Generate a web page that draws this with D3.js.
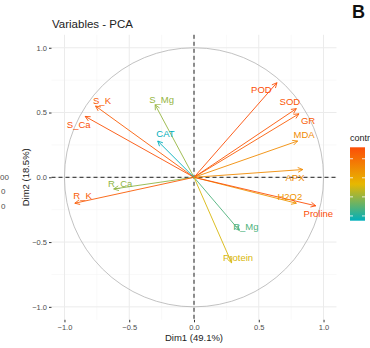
<!DOCTYPE html>
<head>
  <meta charset="utf-8">
  <script src="https://d3js.org/d3.v7.min.js"></script>
  <style>
    body { margin: 0; background: #fff; }
    svg { font-family: "Liberation Sans", Arial, sans-serif; }
    .tick text { fill: #4d4d4d; font-size: 7.5px; }
    .tick line { stroke: #333; }
    .var-label { font-size: 9.5px; }
  </style>
</head>
<body>
<script>
// PCA variables (correlation circle)
var vars    = ["S_K", "S_Ca", "S_Mg", "CAT", "R_Ca", "R_K", "POD", "SOD", "GR", "MDA", "APX", "H2O2", "Proline", "R_Mg", "Protein"];
var dim1    = [-0.76, -0.84, -0.30, -0.28, -0.62, -0.92, 0.64, 0.79, 0.81, 0.80, 0.84, 0.79, 0.94, 0.35, 0.29];
var dim2    = [0.55, 0.47, 0.56, 0.28, -0.09, -0.20, 0.73, 0.53, 0.49, 0.28, 0.06, -0.20, -0.22, -0.41, -0.66];
var contrib = [8.7, 9.1, 4.0, 1.5, 3.9, 8.7, 9.2, 8.9, 8.7, 7.0, 7.0, 6.6, 9.2, 2.8, 5.1];
// where the text labels sit (data units)
var labelX  = [-0.71, -0.89, -0.25, -0.22, -0.57, -0.86, 0.52, 0.74, 0.88, 0.85, 0.78, 0.74, 0.96, 0.40, 0.34];
var labelY  = [0.59, 0.41, 0.60, 0.34, -0.05, -0.14, 0.68, 0.58, 0.44, 0.33, 0.0, -0.15, -0.28, -0.38, -0.62];

var axisTicks = [-1.0, -0.5, 0.0, 0.5, 1.0];
var minorTicks = [-0.75, -0.25, 0.25, 0.75];
var legendTicks = [2, 4, 6, 8];

var width = 370, height = 348;
var svg = d3.select("body").append("svg")
  .attr("width", width)
  .attr("height", height);

var x = d3.scaleLinear().domain([-1.1, 1.1]).range([51.5, 336.5]);
var y = d3.scaleLinear().domain([-1.1, 1.1]).range([319.8, 34.8]);

var color = d3.scaleLinear()
  .domain([d3.min(contrib), (d3.min(contrib) + d3.max(contrib)) / 2, d3.max(contrib)])
  .range(["#00AFBB", "#E7B800", "#FC4E07"]);

var data = vars.map(function(v, i) {
  return {name: v, x: dim1[i], y: dim2[i], c: contrib[i], lx: labelX[i], ly: labelY[i]};
});

// grid
var grid = svg.append("g");
grid.selectAll(".minx").data(minorTicks).enter().append("line")
  .attr("x1", d => x(d)).attr("x2", d => x(d)).attr("y1", y(1.1)).attr("y2", y(-1.1))
  .style("stroke", "#f2f2f2").style("stroke-width", 0.5);
grid.selectAll(".miny").data(minorTicks).enter().append("line")
  .attr("y1", d => y(d)).attr("y2", d => y(d)).attr("x1", x(-1.1)).attr("x2", x(1.1))
  .style("stroke", "#f2f2f2").style("stroke-width", 0.5);
grid.selectAll(".majx").data(axisTicks).enter().append("line")
  .attr("x1", d => x(d)).attr("x2", d => x(d)).attr("y1", y(1.1)).attr("y2", y(-1.1))
  .style("stroke", "#ebebeb").style("stroke-width", 1);
grid.selectAll(".majy").data(axisTicks).enter().append("line")
  .attr("y1", d => y(d)).attr("y2", d => y(d)).attr("x1", x(-1.1)).attr("x2", x(1.1))
  .style("stroke", "#ebebeb").style("stroke-width", 1);

// axes
svg.append("g")
  .attr("transform", "translate(0," + y(-1.1) + ")")
  .call(d3.axisBottom(x).tickValues(axisTicks).tickFormat(d3.format(".1f")).tickSize(2.5).tickPadding(2))
  .call(g => g.select(".domain").remove());
svg.append("g")
  .attr("transform", "translate(" + x(-1.1) + ",0)")
  .call(d3.axisLeft(y).tickValues(axisTicks).tickFormat(d3.format(".1f")).tickSize(2.5).tickPadding(2))
  .call(g => g.select(".domain").remove());

// correlation circle
svg.append("ellipse")
  .attr("cx", x(0)).attr("cy", y(0))
  .attr("rx", x(1) - x(0)).attr("ry", y(0) - y(1))
  .style("fill", "none").style("stroke", "#b3b3b3").style("stroke-width", 0.8);

// dashed zero lines
svg.append("line")
  .attr("x1", x(-1.1)).attr("x2", x(1.1)).attr("y1", y(0)).attr("y2", y(0))
  .style("stroke", "#222").style("stroke-width", 1).style("stroke-dasharray", "4,3");
svg.append("line")
  .attr("x1", x(0)).attr("x2", x(0)).attr("y1", y(1.1)).attr("y2", y(-1.1))
  .style("stroke", "#222").style("stroke-width", 1).style("stroke-dasharray", "4,3");

// arrows
var arrows = svg.append("g");
data.forEach(function(d) {
  var x0 = x(0), y0 = y(0), x1 = x(d.x), y1 = y(d.y);
  var a = Math.atan2(y1 - y0, x1 - x0), L = 5.5, w = 0.45;
  var col = color(d.c);
  arrows.append("line")
    .attr("x1", x0).attr("y1", y0).attr("x2", x1).attr("y2", y1)
    .style("stroke", col).style("stroke-width", 0.9);
  arrows.append("path")
    .attr("d", "M" + (x1 - L * Math.cos(a - w)) + "," + (y1 - L * Math.sin(a - w)) +
               "L" + x1 + "," + y1 +
               "L" + (x1 - L * Math.cos(a + w)) + "," + (y1 - L * Math.sin(a + w)))
    .style("fill", "none").style("stroke", col).style("stroke-width", 0.9);
});

svg.append("g").selectAll("text").data(data).enter().append("text")
  .attr("class", "var-label")
  .attr("x", d => x(d.lx)).attr("y", d => y(d.ly))
  .attr("dy", "0.35em")
  .attr("text-anchor", "middle")
  .style("fill", d => color(d.c))
  .text(d => d.name);

// titles
svg.append("text").attr("x", 52).attr("y", 28)
  .style("font-size", "11.5px").style("fill", "#222").text("Variables - PCA");
svg.append("text").attr("x", x(0)).attr("y", 341).attr("text-anchor", "middle")
  .style("font-size", "9.5px").style("fill", "#222").text("Dim1 (49.1%)");
svg.append("text").attr("transform", "translate(29," + y(0) + ") rotate(-90)")
  .attr("text-anchor", "middle")
  .style("font-size", "9.5px").style("fill", "#222").text("Dim2 (18.5%)");
svg.append("text").attr("x", 352).attr("y", 18)
  .style("font-size", "18px").style("font-weight", "bold").style("fill", "#111").text("B");

// leftover legend labels of the neighbouring panel
svg.selectAll(".left-leg").data([["00", 0, 180], ["0", 1, 194], ["0", 1, 209]]).enter().append("text")
  .attr("x", d => d[1]).attr("y", d => d[2])
  .style("font-size", "8px").style("fill", "#4d4d4d").text(d => d[0]);

// contrib colour bar
var barTop = 147.3, barBottom = 220.7, barX = 350, barW = 15;
var cy = d3.scaleLinear().domain([d3.min(contrib), d3.max(contrib)]).range([barBottom, barTop]);
var defs = svg.append("defs");
var grad = defs.append("linearGradient").attr("id", "cbar")
  .attr("x1", 0).attr("y1", 1).attr("x2", 0).attr("y2", 0);
d3.range(0, 1.01, 0.1).forEach(function(t) {
  var v = d3.min(contrib) + t * (d3.max(contrib) - d3.min(contrib));
  grad.append("stop").attr("offset", t).attr("stop-color", color(v));
});
svg.append("text").attr("x", barX).attr("y", 141)
  .style("font-size", "9px").style("fill", "#222").text("contrib");
svg.append("rect").attr("x", barX).attr("y", barTop)
  .attr("width", barW).attr("height", barBottom - barTop)
  .style("fill", "url(#cbar)");
svg.selectAll(".ltick").data(legendTicks).enter().append("line")
  .attr("x1", barX).attr("x2", barX + 3).attr("y1", d => cy(d)).attr("y2", d => cy(d))
  .style("stroke", "#fff").style("stroke-width", 0.8);
svg.selectAll(".rtick").data(legendTicks).enter().append("line")
  .attr("x1", barX + barW - 3).attr("x2", barX + barW).attr("y1", d => cy(d)).attr("y2", d => cy(d))
  .style("stroke", "#fff").style("stroke-width", 0.8);
</script>
</body>
